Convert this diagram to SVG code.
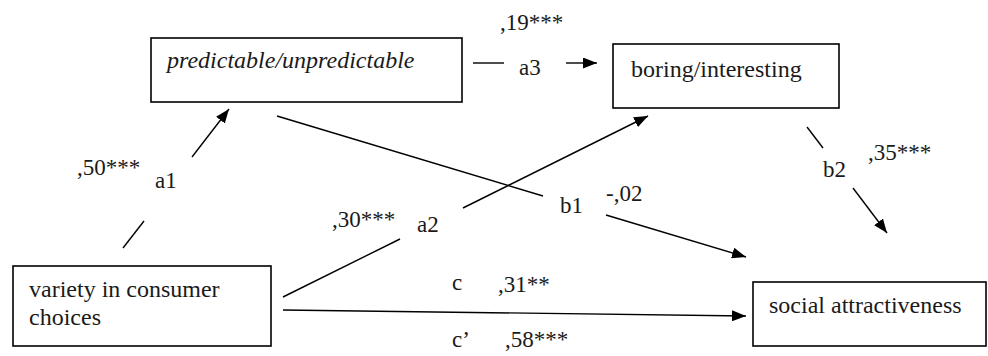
<svg xmlns="http://www.w3.org/2000/svg" width="988" height="356" viewBox="0 0 988 356">
<defs>
<marker id="ah" markerUnits="userSpaceOnUse" markerWidth="15" markerHeight="11" refX="14" refY="5.5" orient="auto">
<path d="M0,0 L14,5.5 L0,11 z" fill="#000"/>
</marker>
<style>
.box{fill:#fff;stroke:#000;stroke-width:1.6}
.ln{stroke:#000;stroke-width:1.4;fill:none}
.ar{stroke:#000;stroke-width:1.4;fill:none;marker-end:url(#ah)}
</style>
</defs>
<rect width="988" height="356" fill="#fff"/>
<g id="connectors">
<line class="ln" x1="123" y1="248" x2="144" y2="221"/>
<line class="ar" x1="192" y1="157" x2="229" y2="109"/>
<line class="ln" x1="473" y1="63" x2="504" y2="63"/>
<line class="ar" x1="566" y1="63" x2="597" y2="63"/>
<line class="ln" x1="283" y1="297" x2="400" y2="239"/>
<line class="ar" x1="463" y1="208" x2="648" y2="116"/>
<line class="ln" x1="277" y1="116" x2="543" y2="196"/>
<line class="ar" x1="606" y1="215" x2="746" y2="257"/>
<line class="ln" x1="807" y1="127" x2="823" y2="148"/>
<line class="ar" x1="853" y1="188" x2="887" y2="233"/>
<line class="ar" x1="283" y1="310" x2="746" y2="316"/>
</g>
<g id="labels" font-family="Liberation Serif" font-size="23" fill="#1a1a1a">
<text x="77" y="175">,50***</text>
<text x="155" y="188">a1</text>
<text x="500" y="30">,19***</text>
<text x="519" y="75">a3</text>
<text x="332" y="227">,30***</text>
<text x="417" y="232">a2</text>
<text x="560" y="213">b1</text>
<text x="606" y="201">-,02</text>
<text x="823" y="177">b2</text>
<text x="868" y="160">,35***</text>
<text x="452" y="290">c</text>
<text x="498" y="292">,31**</text>
<text x="452" y="347">c’</text>
<text x="505" y="347">,58***</text>
</g>
<g id="node-predictable" font-family="Liberation Serif" font-size="24" fill="#1a1a1a">
<rect class="box" x="151" y="38" width="311" height="64"/>
<text x="167" y="68" font-style="italic">predictable/unpredictable</text>
</g>
<g id="node-boring" font-family="Liberation Serif" font-size="24" fill="#1a1a1a">
<rect class="box" x="613" y="44" width="226" height="64"/>
<text x="631" y="77">boring/interesting</text>
</g>
<g id="node-variety" font-family="Liberation Serif" font-size="24" fill="#1a1a1a">
<rect class="box" x="13" y="266" width="258" height="80"/>
<text x="29" y="297">variety in consumer</text>
<text x="29" y="325">choices</text>
</g>
<g id="node-social" font-family="Liberation Serif" font-size="24" fill="#1a1a1a">
<rect class="box" x="753" y="282" width="233" height="64"/>
<text x="769" y="313">social attractiveness</text>
</g>
</svg>
